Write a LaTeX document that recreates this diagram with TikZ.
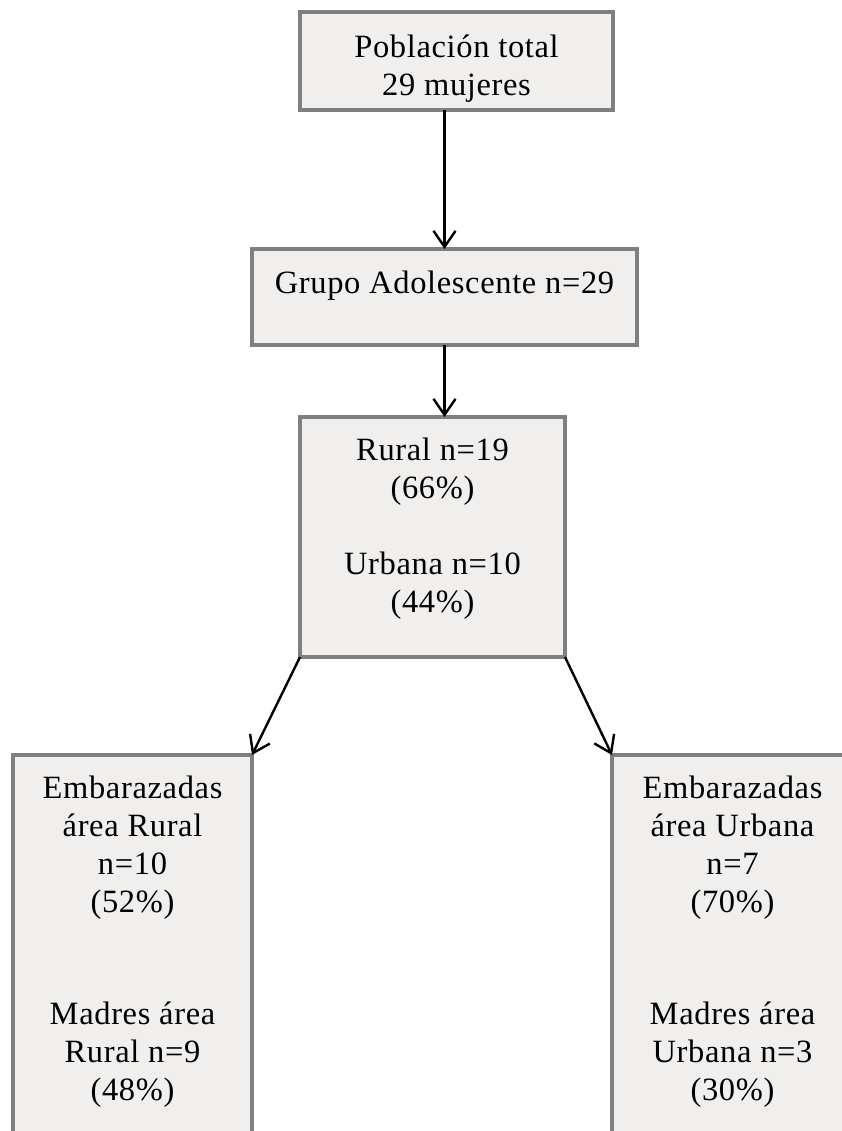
\documentclass[tikz,border=0pt]{standalone}
\usepackage{fontspec}
\setmainfont[LetterSpace=2]{Liberation Serif}
\usetikzlibrary{arrows.meta}
\definecolor{boxfill}{RGB}{240,239,238}
\definecolor{boxline}{RGB}{127,127,127}
\begin{document}
\begin{tikzpicture}[x=1bp,y=-1bp,
  box/.style={draw=boxline, fill=boxfill, line width=4bp, inner sep=0pt, outer sep=0pt, rectangle},
  txt/.style={align=center, inner sep=0pt, font=\fontsize{32.5bp}{38bp}\selectfont},
  arr/.style={line width=2.4bp, -{Straight Barb[length=16bp,width=22bp,line width=2.4bp]}}]
\useasboundingbox (0,0) rectangle (842,1131);
\fill[white] (0,0) rectangle (842,1131);
\clip (0,0) rectangle (842,1131);
\node[box, minimum width=313bp, minimum height=98bp] (A) at (456.5,61) {};
\node[box, minimum width=385bp, minimum height=96bp] (B) at (444.5,297) {};
\node[box, minimum width=265bp, minimum height=240bp] (C) at (432.5,537) {};
\node[box, minimum width=239bp, minimum height=445bp] (D) at (132.5,977.5) {};
\node[box, minimum width=288bp, minimum height=445bp] (E) at (756,977.5) {};
\node[txt] (tA) at (456.5,69) {Población total\\29 mujeres};
\node[txt] (tB) at (444.5,286) {Grupo Adolescente n=29};
\node[txt] (tC) at (432.5,529) {Rural n=19\\(66\%)\\[38bp]Urbana n=10\\(44\%)};
\node[txt] (tD) at (132.5,942) {Embarazadas\\área Rural\\n=10\\(52\%)\\[74bp]Madres área\\Rural n=9\\(48\%)};
\node[txt] (tE) at (732.5,942) {Embarazadas\\área Urbana\\n=7\\(70\%)\\[74bp]Madres área\\Urbana n=3\\(30\%)};
\draw[arr] (B.north |- A.south) -- (B.north);
\draw[arr] (B.south) -- (B.south |- C.north);
\draw[arr] (C.south west) -- (D.north east);
\draw[arr] (C.south east) -- (E.north west);
\end{tikzpicture}
\end{document}
